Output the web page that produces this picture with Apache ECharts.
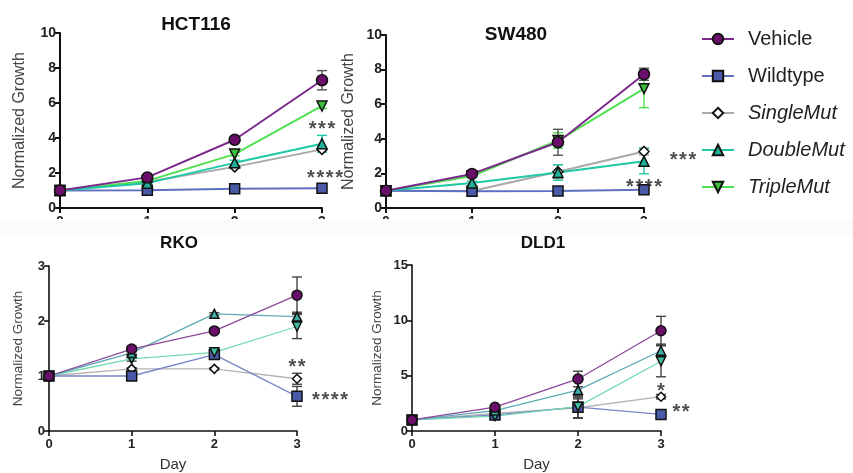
<!DOCTYPE html>
<html>
<head>
<meta charset="utf-8">
<script src="https://cdn.jsdelivr.net/npm/echarts@6/dist/echarts.min.js"></script>
<style>
html,body{margin:0;padding:0;background:#fff;}
#c{width:853px;height:473px;}
</style>
</head>
<body>
<div id="c"></div>
<script>
// ---------- DATA ----------
const days = [0, 1, 2, 3];
const seriesNames = ['Vehicle', 'Wildtype', 'SingleMut', 'DoubleMut', 'TripleMut'];
const panelTitles = ['HCT116', 'SW480', 'RKO', 'DLD1'];

// HCT116
const hctVehicle = [1, 1.75, 3.9, 7.3];
const hctWildtype = [1, 1.02, 1.1, 1.13];
const hctSingle = [1, 1.5, 2.35, 3.35];
const hctDouble = [1, 1.42, 2.58, 3.67];
const hctTriple = [1, 1.55, 3.08, 5.83];
const hctVehicleErr = [0, 0.1, 0.1, 0.55];
const hctWildtypeErr = [0, 0.03, 0.05, 0.05];
const hctSingleErr = [0, 0.05, 0.1, 0.15];
const hctDoubleErr = [0, 0.05, 0.15, 0.48];
const hctTripleErr = [0, 0.05, 0.1, 0.15];

// SW480
const swVehicle = [1, 1.97, 3.8, 7.73];
const swWildtype = [1, 0.97, 0.98, 1.05];
const swSingle = [1, 0.98, 2.1, 3.27];
const swDouble = [1, 1.45, 2.05, 2.7];
const swTriple = [1, 1.85, 3.9, 6.9];
const swVehicleErr = [0, 0.08, 0.75, 0.35];
const swWildtypeErr = [0, 0.05, 0.05, 0.05];
const swSingleErr = [0, 0.05, 0.4, 0.2];
const swDoubleErr = [0, 0.1, 0.45, 0.72];
const swTripleErr = [0, 0.08, 0.45, 1.1];

// RKO
const rkoVehicle = [1, 1.49, 1.82, 2.47];
const rkoWildtype = [1, 1.0, 1.39, 0.63];
const rkoSingle = [1, 1.13, 1.13, 0.95];
const rkoDouble = [1, 1.42, 2.13, 2.08];
const rkoTriple = [1, 1.31, 1.43, 1.9];
const rkoVehicleErr = [0, 0.05, 0.04, 0.33];
const rkoWildtypeErr = [0, 0.06, 0.07, 0.18];
const rkoSingleErr = [0, 0.02, 0.02, 0.1];
const rkoDoubleErr = [0, 0.04, 0.02, 0.08];
const rkoTripleErr = [0, 0.04, 0.05, 0.22];

// DLD1
const dldVehicle = [1, 2.15, 4.7, 9.06];
const dldWildtype = [1, 1.45, 2.15, 1.5];
const dldSingle = [1, 1.6, 2.1, 3.1];
const dldDouble = [1, 1.85, 3.7, 7.25];
const dldTriple = [1, 1.35, 2.2, 6.3];
const dldVehicleErr = [0, 0.2, 0.7, 1.3];
const dldWildtypeErr = [0, 0.15, 1.0, 0.2];
const dldSingleErr = [0, 0.1, 0.9, 0.2];
const dldDoubleErr = [0, 0.2, 0.8, 0.6];
const dldTripleErr = [0, 0.15, 1.0, 1.4];

// y-axis ticks
const hctYTicks = { min: 0, max: 10, interval: 2 };
const swYTicks = { min: 0, max: 10, interval: 2 };
const rkoYTicks = { min: 0, max: 3, interval: 1 };
const dldYTicks = { min: 0, max: 15, interval: 5 };

// significance annotations [day, value, text]
const hctStars = [[3, 4.8, '***'], [3, 2.0, '****']];
const swStars = [[3, 3.05, '***'], [3, 1.5, '****']];
const rkoStars = [[3, 1.25, '**'], [3, 0.65, '****']];
const dldStars = [[3, 4.0, '*'], [3, 2.1, '**']];

// ---------- STYLES ----------
const FONT = 'Liberation Sans, Arial, sans-serif';
const topStyle = {
  Vehicle:   { line: '#7b2a8c', fill: '#6a0f6a', symbol: 'circle', size: 11, err: '#555555' },
  Wildtype:  { line: '#5f6fc0', fill: '#4b5aa6', symbol: 'rect', size: 10, err: '#5f6fc0' },
  SingleMut: { line: '#a9a9a9', fill: '#ffffff', symbol: 'diamond', size: 10, err: '#999999' },
  DoubleMut: { line: '#1ec8a6', fill: '#1fb39c', symbol: 'triangle', size: 10, err: '#1ec8a6' },
  TripleMut: { line: '#4fe04f', fill: '#3cc03c', symbol: 'path://M0,0 L10,0 L5,9 Z', size: 10, err: '#4fe04f' }
};
const botStyle = {
  Vehicle:   { line: '#8a4a9a', fill: '#6a0f6a', symbol: 'circle', size: 10, err: '#444444' },
  Wildtype:  { line: '#7a84c8', fill: '#4b5aa6', symbol: 'rect', size: 10, err: '#444444' },
  SingleMut: { line: '#b4b4b4', fill: '#ffffff', symbol: 'diamond', size: 9, err: '#444444' },
  DoubleMut: { line: '#5eaab8', fill: '#3fb0a8', symbol: 'triangle', size: 9, err: '#444444' },
  TripleMut: { line: '#72dab2', fill: '#3ec0a0', symbol: 'path://M0,0 L10,0 L5,9 Z', size: 9, err: '#444444' }
};

const panels = [
  { vals: [hctVehicle, hctWildtype, hctSingle, hctDouble, hctTriple],
    errs: [hctVehicleErr, hctWildtypeErr, hctSingleErr, hctDoubleErr, hctTripleErr],
    stars: hctStars, starOff: [[0, 5], [3, 5]], yt: hctYTicks, style: topStyle, lw: 2,
    grid: { left: 60, top: 33, width: 262, height: 175 }, title: [191, 10, 19],
    nameGap: 32, nameSize: 16, labSize: 14, axW: 2, xName: '' },
  { vals: [swVehicle, swWildtype, swSingle, swDouble, swTriple],
    errs: [swVehicleErr, swWildtypeErr, swSingleErr, swDoubleErr, swTripleErr],
    stars: swStars, starOff: [[39, 5], [0, 5]], yt: swYTicks, style: topStyle, lw: 2,
    grid: { left: 386, top: 35, width: 258, height: 173 }, title: [511, 20, 19],
    nameGap: 29, nameSize: 16, labSize: 14, axW: 2, xName: '' },
  { vals: [rkoVehicle, rkoWildtype, rkoSingle, rkoDouble, rkoTriple],
    errs: [rkoVehicleErr, rkoWildtypeErr, rkoSingleErr, rkoDoubleErr, rkoTripleErr],
    stars: rkoStars, starOff: [[0, 5], [33, 5]], yt: rkoYTicks, style: botStyle, lw: 1.3,
    grid: { left: 49, top: 266, width: 248, height: 166 }, title: [174, 230, 17],
    nameGap: 24, nameSize: 13.5, labSize: 13, axW: 1.6, xName: 'Day' },
  { vals: [dldVehicle, dldWildtype, dldSingle, dldDouble, dldTriple],
    errs: [dldVehicleErr, dldWildtypeErr, dldSingleErr, dldDoubleErr, dldTripleErr],
    stars: dldStars, starOff: [[0, 5], [20, 5]], yt: dldYTicks, style: botStyle, lw: 1.3,
    grid: { left: 412, top: 265, width: 249, height: 167 }, title: [538, 230, 17],
    nameGap: 28, nameSize: 13.5, labSize: 13, axW: 1.6, xName: 'Day' }
];

const grids = [], xAxes = [], yAxes = [], titles = [], series = [];
const drawOrder = [2, 1, 4, 3, 0];

panels.forEach((p, gi) => {
  grids.push(p.grid);
  titles.push({ text: panelTitles[gi], left: p.title[0], top: p.title[1], textAlign: 'center',
    textStyle: { fontFamily: FONT, fontWeight: 'bold', fontSize: p.title[2], color: '#111' } });
  xAxes.push({
    gridIndex: gi, type: 'value', min: 0, max: 3, interval: 1,
    name: p.xName, nameLocation: 'middle', nameGap: 26,
    nameTextStyle: { fontFamily: FONT, fontSize: 15, color: '#333' },
    axisLine: { show: true, lineStyle: { color: '#111', width: p.axW } },
    axisTick: { show: true, length: 5, lineStyle: { color: '#111', width: p.axW } },
    axisLabel: { fontFamily: FONT, fontWeight: 'bold', fontSize: p.labSize, color: '#222', margin: 7 },
    splitLine: { show: false }
  });
  yAxes.push({
    gridIndex: gi, type: 'value', min: p.yt.min, max: p.yt.max, interval: p.yt.interval,
    name: 'Normalized Growth', nameLocation: 'middle', nameGap: p.nameGap, nameRotate: 90,
    nameTextStyle: { fontFamily: FONT, fontSize: p.nameSize, color: '#444' },
    axisLine: { show: true, lineStyle: { color: '#111', width: p.axW } },
    axisTick: { show: true, length: 5, lineStyle: { color: '#111', width: p.axW } },
    axisLabel: { fontFamily: FONT, fontWeight: 'bold', fontSize: p.labSize, color: '#222', margin: 4 },
    splitLine: { show: false }
  });
  drawOrder.forEach(si => {
    const nm = seriesNames[si];
    const st = p.style[nm];
    const vals = p.vals[si], errs = p.errs[si];
    series.push({
      type: 'custom', xAxisIndex: gi, yAxisIndex: gi, silent: true, z: 1,
      data: days.map((d, i) => [d, vals[i], errs[i]]).filter(r => r[2] > 0),
      renderItem: (params, api) => {
        const x = api.value(0), y = api.value(1), e = api.value(2);
        const t = api.coord([x, y + e]), b = api.coord([x, y - e]);
        const hw = 5, s = { stroke: st.err, lineWidth: 1.4 };
        return { type: 'group', children: [
          { type: 'line', shape: { x1: t[0], y1: t[1], x2: b[0], y2: b[1] }, style: s },
          { type: 'line', shape: { x1: t[0] - hw, y1: t[1], x2: t[0] + hw, y2: t[1] }, style: s },
          { type: 'line', shape: { x1: b[0] - hw, y1: b[1], x2: b[0] + hw, y2: b[1] }, style: s }
        ]};
      }
    });
  });
  drawOrder.forEach(si => {
    const nm = seriesNames[si];
    const st = p.style[nm];
    const vals = p.vals[si];
    series.push({
      type: 'line', name: nm, xAxisIndex: gi, yAxisIndex: gi, z: 3,
      data: days.map((d, i) => [d, vals[i]]),
      symbol: st.symbol, symbolSize: st.size, showSymbol: true,
      lineStyle: { color: st.line, width: p.lw },
      itemStyle: { color: st.fill, borderColor: '#111', borderWidth: 1.5 },
      emphasis: { disabled: true }, animation: false
    });
  });
  series.push({
    type: 'scatter', xAxisIndex: gi, yAxisIndex: gi, symbolSize: 0, silent: true, z: 4,
    data: p.stars.map((s, k) => ({ value: [s[0], s[1]],
      label: { show: true, formatter: s[2].split('').join('\u200A'), position: 'inside', offset: p.starOff[k],
        fontFamily: FONT, fontWeight: 'bold', fontSize: 20, color: '#222' } }))
  });
});

const legendItems = seriesNames.map((n, i) => ({
  name: n,
  textStyle: { fontStyle: i >= 2 ? 'italic' : 'normal' }
}));

const chart = echarts.init(document.getElementById('c'), null, { renderer: 'canvas' });
chart.setOption({
  animation: false,
  backgroundColor: '#ffffff',
  title: titles,
  grid: grids,
  xAxis: xAxes,
  yAxis: yAxes,
  legend: {
    data: legendItems, orient: 'vertical', left: 696, top: 24,
    itemWidth: 32, itemHeight: 13, itemGap: 17,
    textStyle: { fontFamily: FONT, fontSize: 20, color: '#222', padding: [0, 0, 0, 9] },
    selectedMode: false
  },
  graphic: [{
    type: 'rect', z: 5, silent: true,
    shape: { x: 0, y: 219, width: 853, height: 16 },
    style: { fill: '#fbfbfb' }
  }],
  series: series
});
</script>
</body>
</html>
